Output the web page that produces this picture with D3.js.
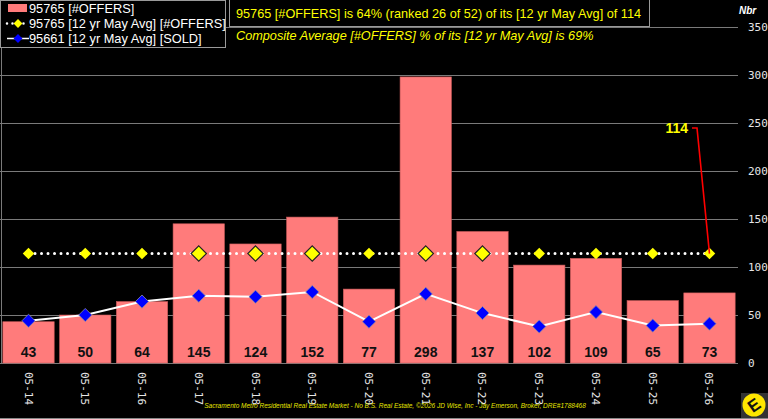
<!DOCTYPE html>
<html>
<head>
<meta charset="utf-8">
<script src="https://cdn.jsdelivr.net/npm/d3@7"></script>
<style>
  html, body { margin: 0; padding: 0; background: #000; }
  svg { display: block; }
</style>
</head>
<body>
<svg id="chart" width="768" height="419"></svg>
<script>
const categories = ["05-14", "05-15", "05-16", "05-17", "05-18", "05-19", "05-20", "05-21", "05-22", "05-23", "05-24", "05-25", "05-26"];
const offers = [43, 50, 64, 145, 124, 152, 77, 298, 137, 102, 109, 65, 73];
const offersAvg = [114, 114, 114, 114, 114, 114, 114, 114, 114, 114, 114, 114, 114];
const soldAvg = [44, 50, 64, 70, 69, 74, 43, 72, 52, 38, 53, 39, 41];
const yTicks = [0, 50, 100, 150, 200, 250, 300, 350];

const legendItems = ["95765 [#OFFERS]", "95765 [12 yr May Avg] [#OFFERS]", "95661 [12 yr May Avg] [SOLD]"];
const titleLine1 = "95765 [#OFFERS] is 64% (ranked 26 of 52) of its [12 yr May Avg] of 114";
const titleLine2 = "Composite Average [#OFFERS] % of its [12 yr May Avg] is 69%";
const footer = "Sacramento Metro Residential Real Estate Market - No B.S. Real Estate, \u00a92026 JD Wise, Inc - Jay Emerson, Broker, DRE#1788468";

const W = 768, H = 419;
const plot = { left: 0, right: 738, top: 27, bottom: 363 };
const svg = d3.select("#chart");

svg.append("rect").attr("width", W).attr("height", H).attr("fill", "#000");

const x = d3.scaleBand().domain(categories).range([plot.left, plot.right]).paddingInner(0.095).paddingOuter(0.05);
const y = d3.scaleLinear().domain([0, 350]).range([plot.bottom, plot.top]);

// gridlines
svg.append("g")
  .selectAll("line")
  .data(yTicks)
  .join("line")
  .attr("x1", plot.left)
  .attr("x2", plot.right)
  .attr("y1", d => y(d) + 0.5)
  .attr("y2", d => y(d) + 0.5)
  .attr("stroke", "#7a7a7a")
  .attr("stroke-width", 1);

svg.append("line")
  .attr("x1", 1.5).attr("x2", 1.5)
  .attr("y1", 0).attr("y2", plot.bottom)
  .attr("stroke", "#7a7a7a");

// right axis
const yAxis = d3.axisRight(y).tickValues(yTicks).tickSize(0).tickPadding(0);
const ya = svg.append("g")
  .attr("transform", `translate(748,0)`)
  .call(yAxis);
ya.select(".domain").remove();
ya.selectAll("text")
  .attr("fill", "#e6e6e6")
  .attr("font-family", "DejaVu Sans Mono")
  .attr("font-size", 11);

svg.append("text")
  .attr("x", 739).attr("y", 14)
  .attr("fill", "#fff")
  .attr("font-family", "Liberation Sans")
  .attr("font-style", "italic")
  .attr("font-weight", "bold")
  .attr("font-size", 10)
  .text("Nbr");

// bars
svg.append("g")
  .selectAll("rect")
  .data(offers)
  .join("rect")
  .attr("x", (d, i) => x(categories[i]))
  .attr("y", d => y(d))
  .attr("width", x.bandwidth())
  .attr("height", d => y(0) - y(d))
  .attr("fill", "#ff7b7b")
  .attr("stroke", "#c85a5a")
  .attr("stroke-width", 0.6);

svg.append("g")
  .selectAll("text")
  .data(offers)
  .join("text")
  .attr("x", (d, i) => x(categories[i]) + x.bandwidth() / 2)
  .attr("y", 357)
  .attr("text-anchor", "middle")
  .attr("fill", "#111")
  .attr("font-family", "Liberation Sans")
  .attr("font-weight", "bold")
  .attr("font-size", 14)
  .text(d => d);

const cx = i => x(categories[i]) + x.bandwidth() / 2;

// 12 yr avg offers dotted line
const avgLine = d3.line().x((d, i) => cx(i)).y(d => y(d));
svg.append("path")
  .datum(offersAvg)
  .attr("d", avgLine)
  .attr("fill", "none")
  .attr("stroke", "#fff")
  .attr("stroke-width", 3)
  .attr("stroke-linecap", "round")
  .attr("stroke-dasharray", "0 6.5");

const diamond = d3.symbol().type(d3.symbolDiamond2);
svg.append("g")
  .selectAll("path")
  .data(offersAvg)
  .join("path")
  .attr("transform", (d, i) => `translate(${cx(i)},${y(d)})`)
  .attr("d", (d, i) => diamond.size(offers[i] > d ? 150 : 85)())
  .attr("fill", "#ffff00")
  .attr("stroke", (d, i) => offers[i] > d ? "#222" : "none")
  .attr("stroke-width", 1.2);

// sold line
svg.append("path")
  .datum(soldAvg)
  .attr("d", avgLine)
  .attr("fill", "none")
  .attr("stroke", "#fff")
  .attr("stroke-width", 2);

svg.append("g")
  .selectAll("path")
  .data(soldAvg)
  .join("path")
  .attr("transform", (d, i) => `translate(${cx(i)},${y(d)})`)
  .attr("d", diamond.size(110)())
  .attr("fill", "#0000ff")
  .attr("stroke", "#8888aa")
  .attr("stroke-width", 0.8);

// annotation for last avg value
const last = offersAvg.length - 1;
svg.append("path")
  .attr("d", `M692,128L697,128L${cx(last)},${y(offersAvg[last])}`)
  .attr("fill", "none")
  .attr("stroke", "#ff0000")
  .attr("stroke-width", 1.6);
svg.append("text")
  .attr("x", 688).attr("y", 133)
  .attr("text-anchor", "end")
  .attr("fill", "#ffff00")
  .attr("font-family", "Liberation Sans")
  .attr("font-weight", "bold")
  .attr("font-size", 14)
  .text(offersAvg[last]);

// x axis labels
svg.append("g")
  .selectAll("text")
  .data(categories)
  .join("text")
  .attr("transform", (d, i) => `translate(${cx(i) - 4},372) rotate(90)`)
  .attr("fill", "#e6e6e6")
  .attr("font-family", "DejaVu Sans Mono")
  .attr("font-size", 11)
  .text(d => d);

// legend
const lg = svg.append("g");
lg.append("rect")
  .attr("x", 0.5).attr("y", 0.5)
  .attr("width", 225).attr("height", 47)
  .attr("fill", "#000")
  .attr("stroke", "#9a9a9a");
lg.append("rect").attr("x", 8).attr("y", 4).attr("width", 19).attr("height", 8).attr("fill", "#ff7b7b");
lg.append("line").attr("x1", 7).attr("x2", 29).attr("y1", 23.5).attr("y2", 23.5)
  .attr("stroke", "#fff").attr("stroke-width", 2.5).attr("stroke-linecap", "round").attr("stroke-dasharray", "0 5.5");
lg.append("path").attr("transform", "translate(18,23.5)").attr("d", diamond.size(50)()).attr("fill", "#ffff00");
lg.append("line").attr("x1", 7).attr("x2", 29).attr("y1", 38.5).attr("y2", 38.5)
  .attr("stroke", "#fff").attr("stroke-width", 1.5);
lg.append("path").attr("transform", "translate(18,38.5)").attr("d", diamond.size(50)()).attr("fill", "#0000ff");
lg.selectAll("text.item")
  .data(legendItems)
  .join("text")
  .attr("class", "item")
  .attr("x", 29)
  .attr("y", (d, i) => 13 + i * 15)
  .attr("fill", "#fff")
  .attr("font-family", "Liberation Sans")
  .attr("font-size", 12.8)
  .text(d => d);

// title box
svg.append("rect")
  .attr("x", 229.5).attr("y", -1)
  .attr("width", 420).attr("height", 27.5)
  .attr("fill", "#000")
  .attr("stroke", "#9a9a9a");
svg.append("text")
  .attr("x", 236).attr("y", 18)
  .attr("fill", "#ffff00")
  .attr("font-family", "Liberation Sans")
  .attr("font-size", 12.7)
  .text(titleLine1);
svg.append("text")
  .attr("x", 236).attr("y", 40)
  .attr("fill", "#ffff00")
  .attr("font-family", "Liberation Sans")
  .attr("font-style", "italic")
  .attr("font-size", 12.7)
  .text(titleLine2);

// footer
svg.append("text")
  .attr("x", 395).attr("y", 408)
  .attr("text-anchor", "middle")
  .attr("fill", "#e6e600")
  .attr("font-family", "Liberation Sans")
  .attr("font-style", "italic")
  .attr("font-size", 6.5)
  .text(footer);

// logo
const logo = svg.append("g").attr("transform", "translate(754,405)");
logo.append("rect").attr("x", -13).attr("y", -12).attr("width", 27).attr("height", 27).attr("fill", "#333");
logo.append("circle").attr("r", 11.5).attr("fill", "#ffe600");
logo.append("text")
  .attr("text-anchor", "middle").attr("dy", "0.36em")
  .attr("transform", "rotate(-35)")
  .attr("fill", "#111")
  .attr("font-family", "Liberation Sans")
  .attr("font-weight", "bold")
  .attr("font-size", 17)
  .text("E");

// frame bottom
svg.append("line").attr("x1", 0).attr("x2", W).attr("y1", 418.5).attr("y2", 418.5).attr("stroke", "#888");
</script>
</body>
</html>
